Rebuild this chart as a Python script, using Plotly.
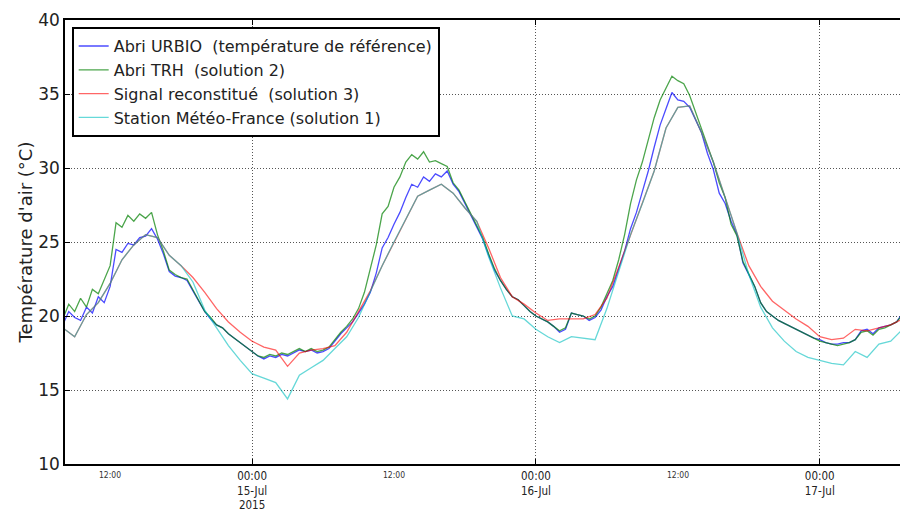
import pandas as pd
import plotly.graph_objects as go

# Time grids: 30-min sampling for the shelter sensors, hourly for the others
t_30min = pd.date_range("2015-07-14 08:00", "2015-07-17 07:00", freq="30min")
t_hourly = pd.date_range("2015-07-14 08:00", "2015-07-17 07:00", freq="60min")

# Abri URBIO (reference temperature), °C
urbio = [
    19.4, 20.3, 19.9, 19.7, 20.6, 20.2, 21.3, 20.9, 22.0, 24.5, 24.3, 24.9,
    24.8, 25.3, 25.4, 25.9, 25.2, 24.2, 23.0, 22.7, 22.6, 22.4, 21.7, 21.0,
    20.3, 19.8, 19.4, 19.2, 18.8, 18.5, 18.2, 17.9, 17.6, 17.3, 17.1, 17.3,
    17.2, 17.4, 17.3, 17.5, 17.7, 17.6, 17.7, 17.5, 17.6, 17.8, 18.3, 18.8,
    19.2, 19.6, 20.2, 20.8, 21.6, 22.9, 24.6, 25.3, 26.2, 27.0, 28.0, 28.9,
    28.7, 29.4, 29.1, 29.6, 29.4, 29.8, 28.9, 28.4, 27.6, 26.8, 26.0, 25.2,
    24.1, 23.1, 22.4, 21.8, 21.3, 21.1, 20.7, 20.3, 20.0, 19.8, 19.6, 19.3,
    18.9, 19.1, 20.2, 20.1, 20.0, 19.7, 19.9, 20.4, 21.3, 22.0, 23.2, 24.4,
    25.9, 27.0, 28.4, 29.8, 31.4, 32.9, 34.0, 35.1, 34.6, 34.5, 34.1, 33.2,
    32.4, 31.0, 29.9, 28.3, 27.6, 26.4, 25.5, 23.6, 22.8, 22.0, 20.9, 20.3,
    20.0, 19.7, 19.5, 19.3, 19.1, 18.9, 18.7, 18.5, 18.4, 18.2, 18.1, 18.1,
    18.2, 18.2, 18.4, 19.0, 19.1, 18.8, 19.2, 19.3, 19.4, 19.6, 20.2,
]

# Abri TRH (solution 2), °C
trh = [
    19.8, 20.8, 20.3, 21.2, 20.6, 21.8, 21.5, 22.4, 23.4, 26.3, 26.0, 26.8,
    26.4, 26.9, 26.6, 27.0, 25.5, 24.4, 23.1, 22.8, 22.6, 22.5, 21.8, 21.0,
    20.3, 19.9, 19.4, 19.2, 18.8, 18.5, 18.2, 17.9, 17.6, 17.3, 17.2, 17.4,
    17.3, 17.5, 17.4, 17.6, 17.8, 17.6, 17.8, 17.6, 17.7, 17.9, 18.4, 18.9,
    19.3, 19.8, 20.5, 21.6, 23.2, 24.8, 26.9, 27.4, 28.7, 29.4, 30.4, 30.9,
    30.6, 31.1, 30.4, 30.5, 30.3, 30.1, 29.0, 28.5, 27.7, 26.9, 26.1, 25.3,
    24.2, 23.2, 22.4, 21.8, 21.3, 21.1, 20.7, 20.3, 20.0, 19.8, 19.6, 19.3,
    19.0, 19.2, 20.2, 20.1, 20.0, 19.8, 20.0, 20.6, 21.5, 22.4, 23.8, 25.5,
    27.6, 29.2, 30.4, 31.9, 33.4, 34.6, 35.4, 36.2, 35.9, 35.7, 34.9, 33.8,
    32.6, 31.6, 30.4, 29.0, 28.0, 26.2, 25.4, 23.7, 22.8, 22.0, 20.9, 20.3,
    20.0, 19.7, 19.5, 19.3, 19.1, 18.9, 18.7, 18.5, 18.3, 18.2, 18.1, 18.0,
    18.1, 18.2, 18.4, 18.9, 19.0, 18.7, 19.1, 19.2, 19.4, 19.6, 20.1,
]

# Signal reconstitué (solution 3), hourly, °C
reconstitue = [
    19.2, 18.6, 20.1, 20.9, 22.2, 23.8, 24.8, 25.5, 25.3, 24.1, 23.4, 22.6,
    21.6, 20.5, 19.6, 18.9, 18.3, 17.9, 17.7, 16.6, 17.5, 17.7, 17.8, 18.0,
    18.9, 20.3, 21.7, 23.4, 25.0, 26.5, 28.1, 28.5, 28.9, 28.3, 27.3, 26.4,
    24.6, 22.6, 21.3, 20.8, 20.2, 19.7, 19.8, 19.8, 19.8, 20.1, 21.2, 23.3,
    25.5, 27.6, 29.8, 32.7, 34.1, 34.2, 32.4, 30.4, 28.0, 25.6, 23.4, 22.0,
    21.0, 20.4, 19.8, 19.3, 18.6, 18.4, 18.5, 19.1, 19.0, 19.2, 19.4, 19.8,
]

# Station Météo-France (solution 1), hourly, °C
meteo_france = [
    19.2, 18.6, 20.1, 20.9, 22.2, 23.8, 24.8, 25.5, 25.3, 24.1, 23.4, 22.3,
    20.4, 19.2, 18.0, 17.0, 16.1, 15.8, 15.5, 14.4, 16.0, 16.5, 17.0, 17.8,
    18.6, 19.9, 21.7, 23.4, 25.0, 26.5, 28.1, 28.5, 28.9, 28.3, 27.3, 26.4,
    24.0, 21.9, 20.0, 19.8, 19.1, 18.6, 18.2, 18.6, 18.5, 18.4, 20.5, 23.0,
    25.5, 27.6, 29.8, 32.7, 34.1, 34.2, 32.4, 30.4, 28.0, 25.6, 22.8, 20.6,
    19.2, 18.3, 17.6, 17.2, 17.0, 16.8, 16.7, 17.6, 17.2, 18.1, 18.3, 19.1,
]

series = [
    ("Abri URBIO\u00a0 (température de référence)", t_30min, urbio, "#0000ff", 0.7),
    ("Abri TRH\u00a0 (solution 2)", t_30min, trh, "#008000", 0.7),
    ("Signal reconstitué\u00a0 (solution 3)", t_hourly, reconstitue, "#ff0000", 0.6),
    ("Station Météo-France\u00a0(solution 1)", t_hourly, meteo_france, "#00bfbf", 0.6),
]

midnights = ["2015-07-15 00:00", "2015-07-16 00:00", "2015-07-17 00:00"]
midnight_text = ["00:00<br>15-Jul<br>2015", "00:00<br>16-Jul", "00:00<br>17-Jul"]
noons = ["2015-07-14 12:00", "2015-07-15 12:00", "2015-07-16 12:00"]
y_ticks = [10, 15, 20, 25, 30, 35, 40]

fig = go.Figure()
for i, (name, t, vals, color, alpha) in enumerate(series):
    fig.add_trace(go.Scatter(
        x=t, y=vals, mode="lines", name=name, legendgroup=f"g{i}",
        line=dict(color=color, width=1.3), opacity=alpha,
    ))

# Small 12:00 labels between the day ticks
for n in noons:
    fig.add_annotation(
        x=n, y=0, xref="x", yref="paper", yanchor="top", yshift=-4,
        text="12:00", showarrow=False,
        font=dict(family="DejaVu Sans Condensed, DejaVu Sans", size=8.5, color="#333"),
    )

grid_style = dict(showgrid=True, gridcolor="#555", griddash="1px,2px", gridwidth=1)

fig.update_layout(
    width=900, height=512,
    margin=dict(l=65, r=0, t=20, b=44),
    paper_bgcolor="white", plot_bgcolor="white",
    font=dict(family="DejaVu Sans", color="#222"),
    showlegend=True,
    legend=dict(
        x=0.008, y=0.984, xanchor="left", yanchor="top",
        bgcolor="white", bordercolor="black", borderwidth=2,
        font=dict(family="DejaVu Sans", size=16, color="#222"),
        tracegroupgap=0, itemwidth=30,
    ),
)

fig.update_xaxes(
    range=["2015-07-14 08:11", "2015-07-17 06:47"],
    tickmode="array", tickvals=midnights, ticktext=midnight_text,
    tickfont=dict(family="DejaVu Sans Condensed, DejaVu Sans", size=11.5, color="#222"),
    ticks="inside", ticklen=5, tickcolor="black",
    showline=True, linecolor="black", linewidth=1.5, mirror="ticks",
    zeroline=False, **grid_style,
)
fig.update_yaxes(
    range=[10, 40], tickmode="array", tickvals=y_ticks,
    tickfont=dict(family="DejaVu Sans", size=17, color="#222"),
    ticks="inside", ticklen=5, tickcolor="black",
    showline=True, linecolor="black", linewidth=1.5, mirror=False,
    zeroline=False, **grid_style,
    title=dict(text="Température d'air (°C)", standoff=1,
               font=dict(family="DejaVu Sans", size=18, color="#222")),
)

fig.write_html("out.html")
